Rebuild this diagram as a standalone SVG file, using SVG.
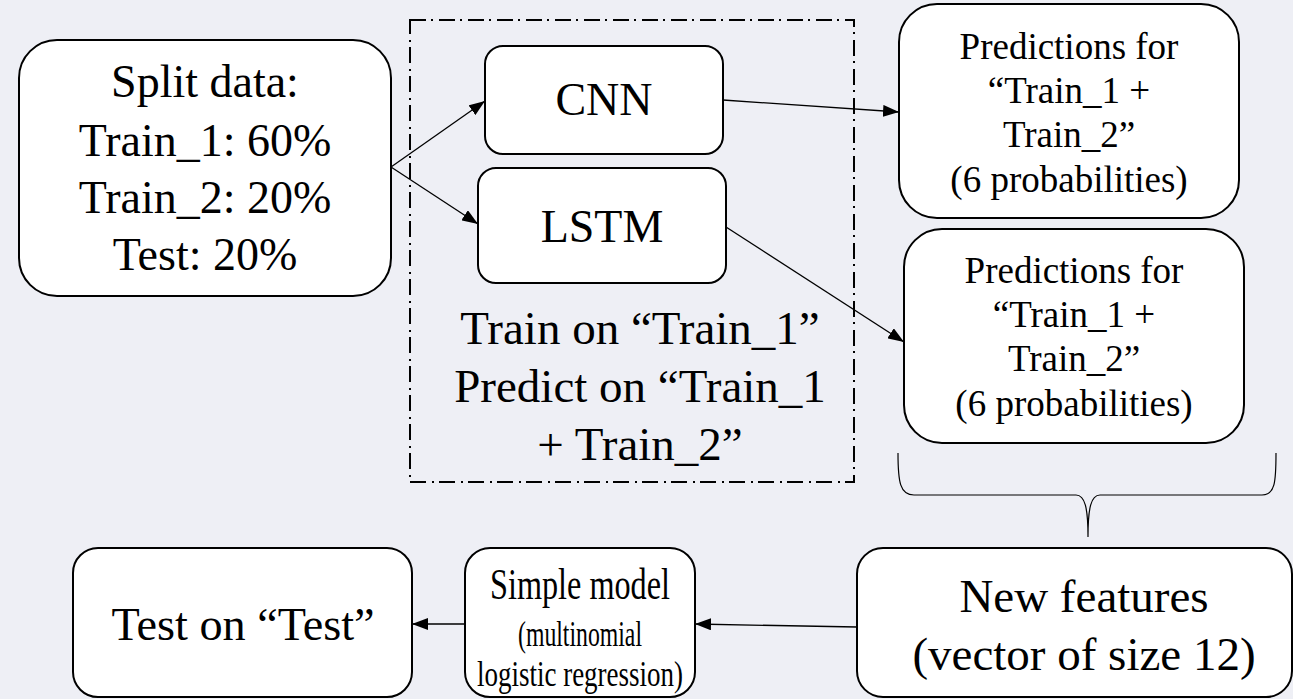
<svg xmlns="http://www.w3.org/2000/svg" width="1293" height="699" viewBox="0 0 1293 699">
  <style>
    .box { fill: #ffffff; stroke: #000000; stroke-width: 2; }
    .frame { fill: none; stroke: #000000; stroke-width: 2; stroke-dasharray: 16 5 2 6; }
    .edge { fill: none; stroke: #000000; stroke-width: 1.3; }
    .brace { fill: none; stroke: #000000; stroke-width: 1.2; }
    text { font-family: "Liberation Serif", "Times New Roman", serif; fill: #000000; text-anchor: middle; }
    .t46 { font-size: 46px; }
    .t47 { font-size: 47px; }
    .t37 { font-size: 37px; }
    .t44 { font-size: 44px; }
    .t35 { font-size: 35px; }
  </style>
  <defs>
    <marker id="arrow" markerWidth="16" markerHeight="12" refX="16" refY="6" orient="auto" markerUnits="userSpaceOnUse">
      <path d="M0,0 L16,6 L0,12 Z" fill="#000000"/>
    </marker>
  </defs>

  <rect width="1293" height="699" fill="#EEEFF5"/>

  <!-- training stage: dash-dot frame with its caption -->
  <g id="stage">
    <rect class="frame" x="410" y="20" width="444" height="462"/>
    <text class="t47" x="640" y="344">Train on “Train_1”</text>
    <text class="t47" x="640" y="402">Predict on “Train_1</text>
    <text class="t47" x="640" y="460">+ Train_2”</text>
  </g>

  <g id="split">
    <rect class="box" x="19" y="40" width="372" height="256" rx="38"/>
    <text class="t46" x="205" y="97">Split data:</text>
    <text class="t46" x="205" y="156">Train_1: 60%</text>
    <text class="t46" x="205" y="213">Train_2: 20%</text>
    <text class="t46" x="205" y="270">Test: 20%</text>
  </g>

  <g id="cnn">
    <rect class="box" x="485" y="46" width="238" height="108" rx="18"/>
    <text class="t46" x="604" y="115">CNN</text>
  </g>

  <g id="lstm">
    <rect class="box" x="478" y="168" width="248" height="115" rx="18"/>
    <text class="t46" x="602" y="242">LSTM</text>
  </g>

  <g id="pred-cnn">
    <rect class="box" x="899" y="4" width="340" height="214" rx="38"/>
    <text class="t37" x="1069" y="59">Predictions for</text>
    <text class="t37" x="1069" y="103">“Train_1 +</text>
    <text class="t37" x="1069" y="147">Train_2”</text>
    <text class="t37" x="1069" y="192">(6 probabilities)</text>
  </g>

  <g id="pred-lstm">
    <rect class="box" x="904" y="229" width="340" height="214" rx="38"/>
    <text class="t37" x="1074" y="283">Predictions for</text>
    <text class="t37" x="1074" y="327">“Train_1 +</text>
    <text class="t37" x="1074" y="371">Train_2”</text>
    <text class="t37" x="1074" y="416">(6 probabilities)</text>
  </g>

  <g id="features">
    <rect class="box" x="857" y="548" width="435" height="149" rx="26"/>
    <text class="t47" x="1084" y="612">New features</text>
    <text class="t47" x="1084" y="670">(vector of size 12)</text>
  </g>

  <g id="simple-model">
    <rect class="box" x="465" y="548" width="230" height="149" rx="25"/>
    <text class="t44" x="580" y="599" textLength="180" lengthAdjust="spacingAndGlyphs">Simple model</text>
    <text class="t35" x="580" y="646" textLength="124" lengthAdjust="spacingAndGlyphs">(multinomial</text>
    <text class="t35" x="580" y="686" textLength="206" lengthAdjust="spacingAndGlyphs">logistic regression)</text>
  </g>

  <g id="test">
    <rect class="box" x="73" y="548" width="339" height="149" rx="25"/>
    <text class="t46" x="243" y="640" textLength="263" lengthAdjust="spacingAndGlyphs">Test on “Test”</text>
  </g>

  <!-- connectors and the brace that merges both prediction sets -->
  <g id="connectors">
    <line class="edge" x1="391" y1="167" x2="485" y2="101" marker-end="url(#arrow)"/>
    <line class="edge" x1="391" y1="167" x2="478" y2="224" marker-end="url(#arrow)"/>
    <line class="edge" x1="723" y1="100" x2="899" y2="112" marker-end="url(#arrow)"/>
    <line class="edge" x1="726" y1="227" x2="904" y2="342" marker-end="url(#arrow)"/>
    <line class="edge" x1="857" y1="627" x2="695" y2="624" marker-end="url(#arrow)"/>
    <line class="edge" x1="465" y1="624" x2="412" y2="624" marker-end="url(#arrow)"/>
    <path class="brace" d="M898,453 C898,482 900,495 914,495 L1076,495 C1085,495 1088,508 1088,537 C1088,508 1091,495 1100,495 L1262,495 C1275,495 1276,482 1276,453"/>
  </g>
</svg>
